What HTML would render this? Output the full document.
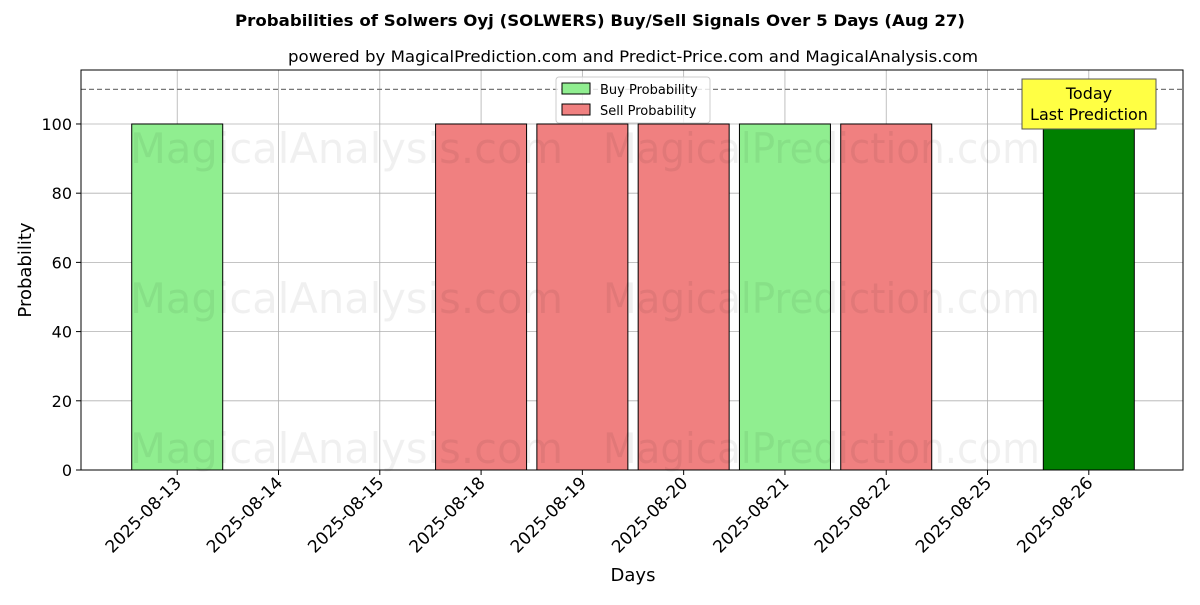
<!DOCTYPE html>
<html><head><meta charset="utf-8"><style>
body{margin:0;background:#fff;}
svg{font-family:"DejaVu Sans","Liberation Sans",sans-serif;}
</style></head><body>
<svg id="chart" width="1200" height="600" viewBox="0 0 1200 600">
<text x="600" y="26" text-anchor="middle" font-size="16" font-weight="bold" textLength="730" lengthAdjust="spacingAndGlyphs">Probabilities of Solwers Oyj (SOLWERS) Buy/Sell Signals Over 5 Days (Aug 27)</text>
<text x="633" y="62" text-anchor="middle" font-size="16" textLength="690" lengthAdjust="spacingAndGlyphs">powered by MagicalPrediction.com and Predict-Price.com and MagicalAnalysis.com</text>
<g id="grid"></g>
<g id="bars"></g>
<g id="wm" fill="#000" fill-opacity="0.06" font-size="42">
<text x="130" y="163" textLength="433" lengthAdjust="spacingAndGlyphs">MagicalAnalysis.com</text>
<text x="603" y="163" textLength="437" lengthAdjust="spacingAndGlyphs">MagicalPrediction.com</text>
<text x="130" y="313" textLength="433" lengthAdjust="spacingAndGlyphs">MagicalAnalysis.com</text>
<text x="603" y="313" textLength="437" lengthAdjust="spacingAndGlyphs">MagicalPrediction.com</text>
<text x="130" y="463" textLength="433" lengthAdjust="spacingAndGlyphs">MagicalAnalysis.com</text>
<text x="603" y="463" textLength="437" lengthAdjust="spacingAndGlyphs">MagicalPrediction.com</text>
</g>
<g id="axes"></g>
<text x="633" y="581" text-anchor="middle" font-size="18">Days</text>
<text transform="translate(31,270) rotate(-90)" text-anchor="middle" font-size="18">Probability</text>
<g>
<rect x="556" y="77" width="154" height="46" fill="#fff" fill-opacity="0.8" stroke="#ccc" rx="3"/>
<rect x="562" y="83" width="28" height="11" fill="#90ee90" stroke="#000"/>
<text x="600" y="94" font-size="13">Buy Probability</text>
<rect x="562" y="104" width="28" height="11" fill="#f08080" stroke="#000"/>
<text x="600" y="115" font-size="13">Sell Probability</text>
</g>
<g>
<rect x="1022" y="79" width="134" height="50" fill="#ffff44" stroke="#555"/>
<text x="1089" y="99" text-anchor="middle" font-size="16">Today</text>
<text x="1089" y="120" text-anchor="middle" font-size="16">Last Prediction</text>
</g>
</svg>
<script>
const categories=["2025-08-13","2025-08-14","2025-08-15","2025-08-18","2025-08-19","2025-08-20","2025-08-21","2025-08-22","2025-08-25","2025-08-26"];
const buyValues=[100,0,0,0,0,0,100,0,0,100];
const sellValues=[0,0,0,100,100,100,0,100,0,0];
const yTicks=[0,20,40,60,80,100];
const thresholdValue=110;
const L=81,R=1183,T=70,B=470,xMin=-0.95,xMax=9.93,yMax=115.6;
const NS="http://www.w3.org/2000/svg";
const xs=i=>L+(i-xMin)/(xMax-xMin)*(R-L);
const ys=v=>B-v/yMax*(B-T);
function mk(p,tag,a){const e=document.createElementNS(NS,tag);for(const k in a)e.setAttribute(k,a[k]);document.getElementById(p).appendChild(e);return e;}
const bw=91;
yTicks.forEach(v=>{const g=mk('grid','line',{x1:L,x2:R,y1:ys(v),y2:ys(v),stroke:'#b0b0b0','stroke-width':0.8});


mk('axes','line',{x1:L-5,x2:L,y1:ys(v),y2:ys(v),stroke:'#000'});
const t=mk('axes','text',{x:L-9,y:ys(v)+6,'text-anchor':'end','font-size':16});t.textContent=v;

});
categories.forEach((c,i)=>{const x=xs(i);const g=mk('grid','line',{x1:x,x2:x,y1:T,y2:B,stroke:'#b0b0b0','stroke-width':0.8});


mk('axes','line',{x1:x,x2:x,y1:B,y2:B+5,stroke:'#000'});
const t=mk('axes','text',{transform:`translate(${x+5},${B+14}) rotate(-45)`,'text-anchor':'end','font-size':17});t.textContent=c;

});
categories.forEach((c,i)=>{
 if(buyValues[i]>0){const r=mk('bars','rect',{x:xs(i)-bw/2,y:ys(buyValues[i]),width:bw,height:B-ys(buyValues[i]),fill:i===categories.length-1?'#008000':'#90ee90',stroke:'#000'});
 
 }
 if(sellValues[i]>0){const r=mk('bars','rect',{x:xs(i)-bw/2,y:ys(sellValues[i]),width:bw,height:B-ys(sellValues[i]),fill:'#f08080',stroke:'#000'});
 
 }
});
const th=mk('bars','line',{x1:L,x2:R,y1:ys(thresholdValue),y2:ys(thresholdValue),stroke:'#777','stroke-dasharray':'5,3','stroke-width':1.2});


const fr=mk('axes','rect',{x:L,y:T,width:R-L,height:B-T,fill:'none',stroke:'#000'});


</script>
</body></html>
